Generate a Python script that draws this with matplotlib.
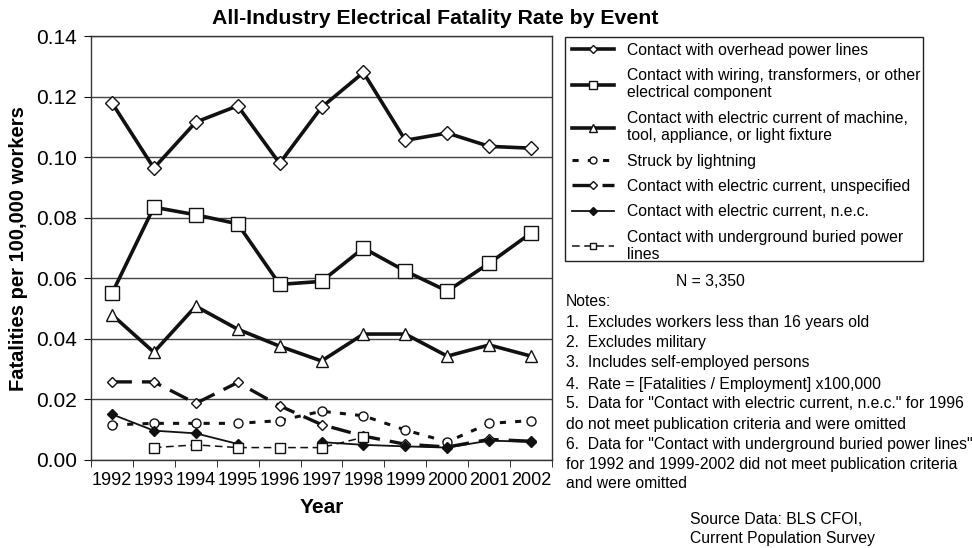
import matplotlib
matplotlib.use("Agg")
import matplotlib.pyplot as plt
import numpy as np
from matplotlib.lines import Line2D
from matplotlib.patches import Rectangle

years = [1992, 1993, 1994, 1995, 1996, 1997, 1998, 1999, 2000, 2001, 2002]
nan = np.nan
overhead = [0.118, 0.0964, 0.1116, 0.117, 0.098, 0.1165, 0.128, 0.1056, 0.108, 0.1036, 0.103]
wiring = [0.055, 0.0835, 0.081, 0.078, 0.058, 0.059, 0.070, 0.0624, 0.0558, 0.065, 0.075]
machine = [0.048, 0.0356, 0.0508, 0.0432, 0.0376, 0.0327, 0.0416, 0.0416, 0.0343, 0.038, 0.0343]
lightning = [0.0116, 0.0121, 0.0121, 0.0121, 0.013, 0.0161, 0.0146, 0.0099, 0.006, 0.0121, 0.013]
unspecified = [0.0258, 0.0258, 0.0187, 0.0256, 0.0179, 0.0117, 0.0079, 0.0052, 0.0043, 0.0068, 0.0062]
nec = [0.0151, 0.0097, 0.0088, 0.0053, nan, 0.0059, 0.0050, 0.0045, 0.0041, 0.0064, 0.0060]
underground = [nan, 0.0041, 0.0050, 0.0041, 0.0041, 0.0041, 0.0075, nan, nan, nan, nan]

labels = [
    "Contact with overhead power lines",
    "Contact with wiring, transformers, or other\nelectrical component",
    "Contact with electric current of machine,\ntool, appliance, or light fixture",
    "Struck by lightning",
    "Contact with electric current, unspecified",
    "Contact with electric current, n.e.c.",
    "Contact with underground buried power\nlines",
]

plt.rcParams['font.family'] = ['Liberation Sans', 'DejaVu Sans']

fig = plt.figure(figsize=(9.72, 5.48), dpi=100)
ax = fig.add_axes([0.0936, 0.1606, 0.4744, 0.7734])

x = np.arange(len(years))
K = '#111111'
styles = [
    dict(data=overhead, ls='-', lw=2.6, marker='D', ms=7, mfc='white', mec=K, mew=1.0, lms=4.5),
    dict(data=wiring, ls='-', lw=2.6, marker='s', ms=9.5, mfc='white', mec=K, mew=1.0, lms=6),
    dict(data=machine, ls='-', lw=2.6, marker='^', ms=9, mfc='white', mec=K, mew=1.0, lms=6),
    dict(data=lightning, ls=(0, (2, 3)), lw=2.2, marker='o', ms=6.5, mfc='white', mec=K, mew=1.0, lms=5),
    dict(data=unspecified, ls=(0, (6, 3)), lw=2.4, marker='D', ms=5.5, mfc='white', mec=K, mew=1.0, lms=4.5),
    dict(data=nec, ls='-', lw=1.3, marker='D', ms=5.5, mfc=K, mec=K, mew=1.0, lms=4),
    dict(data=underground, ls=(0, (5, 3)), lw=1.1, marker='s', ms=7, mfc='white', mec=K, mew=1.0, lms=5),
]

handles = []
for st, lab in zip(styles, labels):
    st = dict(st)
    d = st.pop('data')
    lms = st.pop('lms')
    ax.plot(x, d, color=K, zorder=3, **st)
    st['ms'] = lms
    handles.append(Line2D([], [], color=K, **st))

ax.set_xlim(-0.5, len(years) - 0.5)
ax.set_ylim(0, 0.14)
yt = np.arange(0, 0.1401, 0.02)
ax.set_yticks(yt)
ax.set_yticklabels([f"{v:.2f}" for v in yt], fontsize=15)
ax.set_xticks(x)
ax.set_xticklabels([str(y) for y in years], fontsize=13)
ax.set_xticks(np.arange(-0.5, len(years)), minor=True)
ax.tick_params(axis='x', which='major', length=0, pad=9)
ax.tick_params(axis='x', which='minor', length=5, direction='out', color=K)
ax.tick_params(axis='y', length=5, direction='out', color=K, pad=5)
ax.yaxis.grid(True, color='#444444', lw=1.0)
ax.set_axisbelow(True)
for s in ax.spines.values():
    s.set_color('#333333')
    s.set_linewidth(1.0)

ax.set_xlabel("Year", fontsize=15, fontweight='bold', labelpad=6)
ax.set_ylabel("Fatalities per 100,000 workers", fontsize=14.5, fontweight='bold', labelpad=6)
fig.text(435/972, 1 - 18/548, "All-Industry Electrical Fatality Rate by Event", ha='center', va='center',
         fontsize=15.3, fontweight='bold')

leg = fig.legend(handles, labels, loc='upper left', bbox_to_anchor=(0.581, 0.935),
                 fontsize=11.3, handlelength=2.7, frameon=False,
                 borderpad=0.45, labelspacing=0.66, handletextpad=0.8,
                 borderaxespad=0)
fig.patches.append(Rectangle((565/972, 1 - 261/548), (923 - 565)/972, (261 - 37)/548,
                             transform=fig.transFigure, fill=False, edgecolor='#222222', lw=1.0))

fs = 11.3
fig.text(710/972, 1 - 282/548, "N = 3,350", ha='center', va='center', fontsize=fs)
notes = [
    "Notes:",
    "1.  Excludes workers less than 16 years old",
    "2.  Excludes military",
    "3.  Includes self-employed persons",
    "4.  Rate = [Fatalities / Employment] x100,000",
    "5.  Data for \"Contact with electric current, n.e.c.\" for 1996",
    "do not meet publication criteria and were omitted",
    "6.  Data for \"Contact with underground buried power lines\"",
    "for 1992 and 1999-2002 did not meet publication criteria",
    "and were omitted",
]
ys = [301, 323, 343, 363, 384, 404, 424, 444, 464, 484]
for yy, t in zip(ys, notes):
    fig.text(566/972, 1 - yy/548, t, ha='left', va='center', fontsize=fs)
fig.text(690/972, 1 - 520/548, "Source Data: BLS CFOI,", ha='left', va='center', fontsize=fs)
fig.text(690/972, 1 - 538/548, "Current Population Survey", ha='left', va='center', fontsize=fs)

fig.savefig("out.png", dpi=100)
